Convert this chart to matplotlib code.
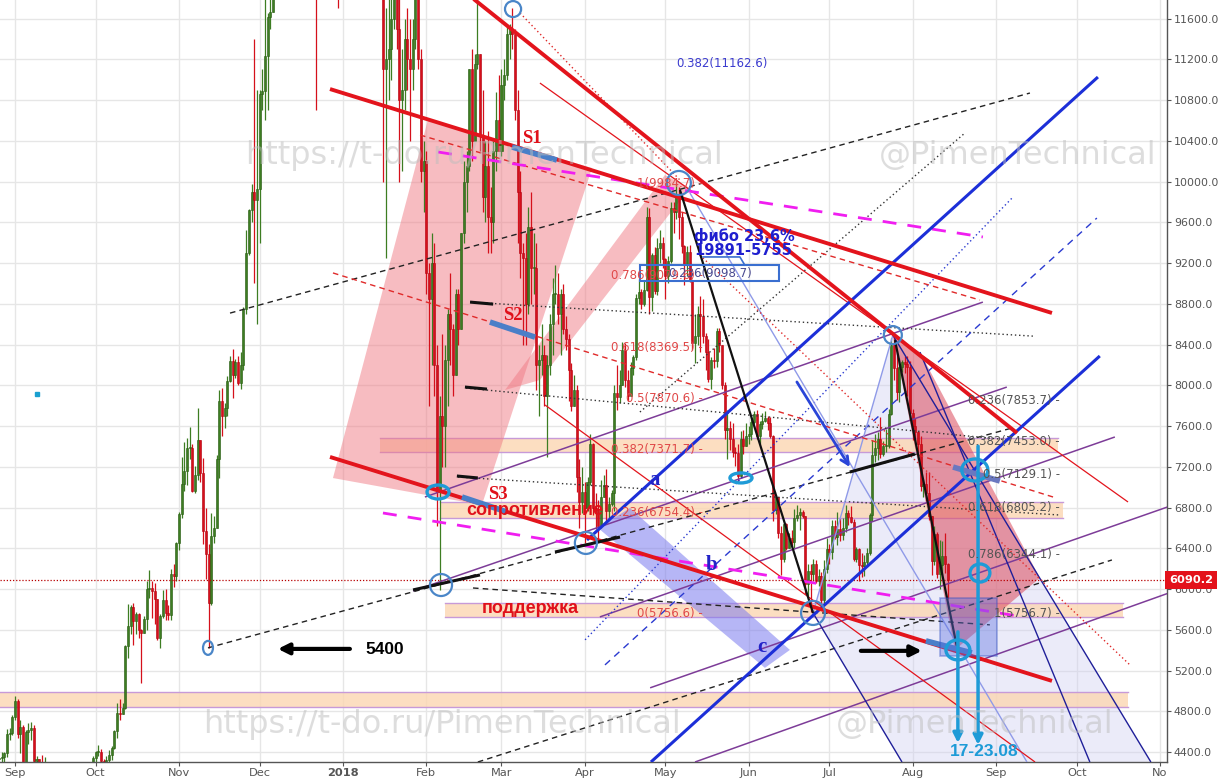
import datetime as dt

import matplotlib
matplotlib.use("Agg")
import matplotlib.dates as mdates
import matplotlib.pyplot as plt
import numpy as np
from matplotlib.patches import Ellipse, Polygon, Rectangle

# ---------------------------------------------------------------- candles
# BTCUSD daily; open = previous close
OPEN_FIRST = 4330
MONTH_STARTS = ["2017-08-26", "2017-09-01", "2017-10-01", "2017-11-01", "2017-12-01",
                "2018-01-01", "2018-02-01", "2018-03-01", "2018-04-01", "2018-05-01",
                "2018-06-01", "2018-07-01", "2018-08-01"]
CLOSE = [
    [4340, 4350, 4390, 4580, 4590, 4740],
    [4900, 4580, 4650, 4300, 4600, 4620, 4640, 4310, 4330, 4220, 4180, 4180, 3880, 3250, 3700,
     3690, 3680, 4080, 3910, 3880, 3630, 3610, 3790, 3670, 3930, 3890, 4210, 4190, 4170, 4340],
    [4400, 4400, 4310, 4220, 4320, 4370, 4440, 4610, 4780, 4770, 4830, 5440, 5640, 5820, 5690,
     5760, 5600, 5570, 5710, 6000, 6010, 5980, 5900, 5520, 5740, 5890, 5770, 5750, 6150, 6130, 6450],
    [6740, 7030, 7160, 7380, 7380, 6960, 7120, 7460, 7140, 6570, 6340, 5860, 6520, 6600, 7280,
     7850, 7700, 7780, 8040, 8240, 8100, 8230, 8020, 8200, 8750, 9300, 9720, 9900, 9820, 9930],
    [10860, 10890, 11230, 11620, 11660, 13700, 16850, 16050, 14840, 15060, 16730, 17280, 16400,
     16500, 17600, 19300, 19100, 18900, 17600, 16400, 15700, 13800, 14000, 13900, 13900, 15800,
     15400, 14400, 14400, 12600, 13900],
    [13450, 14750, 15000, 15000, 16900, 17100, 16200, 15000, 14400, 14900, 13300, 13800, 14200,
     13600, 13600, 11100, 11200, 11300, 11600, 12800, 11500, 10800, 10900, 11400, 11200, 11100,
     11400, 11800, 11200, 10100, 10200],
    [9100, 8850, 9200, 8200, 6950, 7700, 7600, 8250, 8700, 8550, 8100, 8900, 8550, 9500, 10000,
     10150, 11100, 10400, 11150, 11250, 10450, 9850, 10150, 9650, 9600, 10300, 10600, 10300],
    [10950, 11050, 11450, 11500, 11450, 10700, 9900, 9300, 9250, 8800, 9550, 9150, 9150, 8200,
     8250, 8300, 7900, 8200, 8600, 8900, 8900, 8700, 8900, 8550, 8450, 8150, 7800, 7950, 7100,
     6850, 6950],
    [6800, 7050, 7420, 6800, 6780, 6620, 6900, 7020, 6770, 6840, 6940, 7920, 7890, 8000, 8350,
     8050, 7900, 8170, 8280, 8860, 8920, 8800, 8940, 9650, 8870, 9280, 8930, 9350, 9400, 9240],
    [9070, 9220, 9740, 9700, 9850, 9650, 9370, 9180, 9310, 9020, 8420, 8480, 8700, 8680, 8480,
     8330, 8060, 8250, 8240, 8530, 8400, 8000, 7560, 7580, 7470, 7350, 7340, 7110, 7470, 7400, 7500],
    [7520, 7640, 7720, 7500, 7620, 7650, 7680, 7630, 7500, 6780, 6900, 6550, 6300, 6640, 6400,
     6500, 6460, 6700, 6730, 6760, 6720, 6050, 6180, 6150, 6250, 6080, 6130, 5890, 6200, 6390],
    [6360, 6620, 6510, 6590, 6530, 6600, 6750, 6710, 6660, 6300, 6390, 6240, 6230, 6270, 6350,
     6730, 7320, 7380, 7470, 7330, 7400, 7400, 7720, 8400, 8170, 7930, 8180, 8230, 8210, 8180, 7730],
    [7600, 7540, 7420, 7010, 7030, 6940, 6720, 6280, 6540, 6150, 6240, 6320, 6250, 6090],
]
HIGH = [
    [4380, 4400, 4400, 4630, 4640, 4760],
    [4950, 4920, 4720, 4670, 4620, 4690, 4700, 4670, 4360, 4330, 4370, 4350, 4190, 3900, 3800,
     3850, 3800, 4120, 4130, 4060, 3900, 3740, 3810, 3800, 3980, 3970, 4220, 4270, 4220, 4360],
    [4410, 4470, 4430, 4330, 4360, 4420, 4460, 4620, 4880, 4920, 4880, 5450, 5850, 5840, 5860,
     5780, 5770, 5610, 5740, 6080, 6190, 6080, 6060, 5900, 5760, 5990, 6000, 5840, 6200, 6250, 6460],
    [6760, 7300, 7440, 7480, 7590, 7420, 7210, 7780, 7420, 7290, 6800, 6440, 6750, 6720, 7320,
     7950, 7970, 7830, 8090, 8290, 8360, 8260, 8290, 8330, 8770, 9520, 9730, 9980, 11400, 10900],
    [10900, 11100, 11800, 11650, 11850, 13800, 17200, 17300, 16300, 15800, 17400, 17500, 17300,
     16900, 17900, 19500, 19700, 19200, 19000, 17900, 17300, 15900, 15400, 14500, 14600, 16400,
     16500, 15500, 15000, 14600, 14200],
    [13900, 15300, 15400, 15500, 17100, 17200, 17100, 16300, 15400, 14900, 14900, 14000, 14500,
     14400, 14300, 13600, 11700, 12000, 11800, 13000, 12800, 11900, 11300, 11600, 11700, 11600,
     11600, 12000, 11800, 11300, 10400],
    [10300, 9200, 9500, 9400, 8400, 7900, 8500, 8400, 8750, 9100, 8600, 8950, 8950, 9500, 10200,
     10300, 11100, 11300, 11250, 11800, 11250, 10900, 10400, 10500, 9950, 10400, 10880, 11050],
    [11100, 11200, 11550, 11550, 11700, 11500, 10900, 10100, 9400, 9500, 9750, 9900, 9500, 9400,
     8400, 8600, 8400, 8300, 8700, 9050, 9180, 9100, 8950, 8990, 8680, 8500, 8220, 8100, 8000,
     7280, 7200],
    [7050, 7100, 7520, 7430, 6940, 6870, 7070, 7120, 7180, 6900, 6970, 8000, 8200, 8150, 8430,
     8420, 8150, 8230, 8300, 8900, 9040, 8950, 9020, 9750, 9740, 9300, 9360, 9450, 9520, 9460],
    [9250, 9270, 9800, 9800, 9990, 9950, 9700, 9380, 9370, 9380, 9030, 8700, 8780, 8880, 8850,
     8510, 8450, 8280, 8370, 8560, 8560, 8400, 8030, 7760, 7650, 7630, 7390, 7420, 7550, 7560, 7630],
    [7600, 7690, 7750, 7760, 7650, 7730, 7750, 7700, 7690, 7510, 6920, 6890, 6620, 6660, 6650,
     6550, 6580, 6790, 6830, 6800, 6780, 6720, 6250, 6250, 6300, 6290, 6200, 6170, 6290, 6500],
    [6440, 6680, 6680, 6760, 6700, 6700, 6830, 6780, 6820, 6690, 6410, 6400, 6350, 6330, 6400,
     6750, 7460, 7520, 7540, 7690, 7450, 7570, 7770, 8460, 8490, 8320, 8270, 8250, 8290, 8290, 8240],
    [7770, 7680, 7550, 7500, 7080, 7150, 7150, 6720, 6620, 6560, 6480, 6470, 6550, 6260],
]
LOW = [
    [4290, 4300, 4300, 4350, 4520, 4570],
    [4720, 4540, 4390, 4120, 4230, 4480, 4520, 4200, 4130, 4080, 4120, 4100, 3800, 3240, 2990,
     3580, 3580, 3680, 3850, 3820, 3610, 3580, 3600, 3650, 3670, 3840, 3860, 4140, 4070, 4160],
    [4290, 4360, 4210, 4150, 4170, 4300, 4320, 4430, 4540, 4720, 4770, 4820, 5320, 5560, 5450,
     5560, 5520, 5080, 5570, 5600, 5910, 5720, 5660, 5500, 5420, 5720, 5700, 5700, 5700, 6020, 6080],
    [6380, 6700, 6960, 7020, 7280, 6950, 6940, 7070, 7050, 6440, 6100, 5420, 5840, 6450, 6600,
     7090, 7500, 7580, 7700, 8030, 7880, 8070, 8000, 7960, 8150, 8700, 9280, 9600, 9000, 8600],
    [9400, 10700, 10600, 10700, 11500, 11700, 13600, 13900, 13600, 13100, 14800, 16400, 15800,
     15600, 16300, 17300, 18700, 17800, 16600, 14900, 14800, 10700, 12800, 12200, 13100, 13700,
     14800, 13600, 14000, 11700, 12400],
    [12700, 12900, 14600, 14000, 14900, 16200, 15900, 14100, 14300, 13400, 12500, 13200, 13700,
     13300, 13300, 10000, 9250, 10800, 11000, 11500, 11300, 10000, 10100, 10700, 10900, 10400,
     10900, 11300, 11100, 10000, 9700],
    [8900, 7800, 8200, 7900, 6620, 5990, 7200, 7200, 7800, 8200, 7900, 8100, 8400, 8550, 9400,
     9700, 10100, 10200, 10400, 11100, 10300, 9700, 9600, 9300, 9300, 9400, 10100, 10300],
    [10250, 10800, 11000, 11200, 11300, 10600, 9400, 9050, 8400, 8400, 8700, 8800, 8900, 7950,
     7700, 8100, 7800, 7300, 8100, 8300, 8800, 8600, 8300, 8500, 8350, 7850, 7750, 7800, 6950,
     6600, 6750],
    [6450, 6770, 7020, 6730, 6590, 6460, 6600, 6920, 6640, 6680, 6820, 6770, 7760, 7830, 8000,
     7980, 7850, 7900, 8100, 8250, 8800, 8750, 8780, 8930, 8700, 8730, 8900, 8890, 9200, 9150],
    [8850, 9000, 9200, 9500, 9630, 9440, 9300, 8980, 9070, 9010, 8350, 8220, 8400, 8330, 8420,
     8150, 8030, 7960, 8170, 8180, 8330, 7960, 7470, 7280, 7370, 7300, 7210, 7050, 7090, 7330, 7420],
    [7420, 7460, 7620, 7470, 7420, 7570, 7640, 7560, 7480, 6670, 6740, 6500, 6140, 6270, 6380,
     6400, 6420, 6400, 6670, 6580, 6700, 5950, 5930, 5780, 6080, 6060, 6030, 5850, 5850, 6160],
    [6250, 6300, 6490, 6430, 6470, 6480, 6560, 6630, 6650, 6280, 6270, 6080, 6120, 6130, 6240,
     6330, 6670, 7250, 7270, 7290, 7310, 7350, 7380, 7710, 8050, 7860, 7840, 8130, 8120, 7900, 7660],
    [7460, 7450, 7300, 6960, 6900, 6860, 6680, 6140, 6240, 6110, 6000, 6140, 6160, 5900],
]
LAST_PRICE = 6090.2

MONTH_TICKS = ["2017-09-01", "2017-10-01", "2017-11-01", "2017-12-01", "2018-01-01",
               "2018-02-01", "2018-03-01", "2018-04-01", "2018-05-01", "2018-06-01",
               "2018-07-01", "2018-08-01", "2018-09-01", "2018-10-01", "2018-11-01"]
MONTH_LABELS = ["Sep", "Oct", "Nov", "Dec", "2018", "Feb", "Mar", "Apr", "May", "Jun",
                "Jul", "Aug", "Sep", "Oct", "No"]
PRICE_TICKS = list(range(4400, 11601, 400))

# ---------------------------------------------------------------- drawings
# anchors as (days after 2017-09-01, price)
THICK_RED = [((117.2, 10908), (385.8, 8710)), ((117.2, 7297), (385.8, 5099)),
             ((160.0, 12016), (372.8, 7532))]
THIN_RED = [((195.3, 10967), (414.1, 6855)), ((197.2, 7807), (379.5, 4303))]
RED_DASHED = [((118.3, 9103), (386.2, 6904)), ((150.7, 10457), (359.0, 8837))]
RED_DOTTED = [((187.9, 11654), (247.4, 10015)), ((254.8, 9279), (414.8, 5256))]
MAGENTA = [((157.4, 10290), (360.1, 9456)), ((136.9, 6747), (372.8, 5737))]
BLUE_THICK = [((212.8, 6482), (402.9, 11026)), ((236.6, 4303), (403.6, 8288))]
BLUE_DASHED = [((219.5, 5256), (402.5, 9642))]
BLUE_DOTTED = [((212.1, 5502), (371.3, 9848))]
LIGHT_BLUE = [((251.1, 9888), (376.5, 4303)), ((296.9, 5766), (326.6, 8493))]
NAVY = [((326.6, 8493), (422.6, 4303)), ((296.9, 5766), (330.0, 4303)),
        ((336.7, 8326), (399.9, 4303))]
BLACK_SOLID = [((247.4, 9917), (296.9, 5766)), ((327.4, 8444), (350.8, 5384))]
BLACK_SEGS = [((169.3, 8817), (177.9, 8797)), ((167.4, 7983), (175.6, 7963)),
              ((164.4, 7110), (172.2, 7091)), ((200.9, 6364), (225.1, 6511)),
              ((148.1, 5992), (173.0, 6139)), ((310.6, 7149), (334.8, 7326))]
BLACK_DOTTED = [((169.3, 8817), (378.7, 8483)), ((167.8, 7973), (370.2, 7463)),
                ((164.8, 7100), (388.8, 6727)), ((232.5, 7738), (353.4, 10476))]
BLACK_DASHED = [((80.0, 8709), (377.6, 10869)), ((71.8, 5423), (370.9, 7581)),
                ((170.4, 6011), (362.7, 5649)), ((172.2, 4303), (408.1, 6286))]
PURPLE = [((152.5, 6904), (360.1, 8817)), ((217.6, 5727), (409.2, 7493)),
          ((236.3, 5031), (428.9, 6807)), ((253.0, 4303), (429.3, 5962)),
          ((148.1, 5982), (369.0, 7983))]
STEEL_SEGS = [((184.9, 10339), (201.6, 10211)), ((176.7, 8621), (193.5, 8473)),
              ((166.3, 6904), (183.0, 6757)), ((338.9, 5492), (356.0, 5374))]
SLATE_SEG = ((349.0, 7198), (366.4, 7061))

PINK_BANDS = [[(118.3, 7090), (173.7, 6825), (214.7, 10133), (153.6, 10604)],
              [(182.3, 7954), (195.3, 8052), (251.1, 9937), (241.8, 10064)]]
BLUE_BAND = [(216.9, 6600), (228.8, 6796), (288.3, 5403), (279.0, 5227)]
RED_ZONE = [(326.6, 8493), (336.7, 8326), (381.3, 6109), (349.7, 5403)]
LAVENDER_ZONE = [(296.9, 5766), (326.6, 8493), (422.6, 4303), (330.0, 4303)]
# (day from, day to, price low, price high)
ZONES = [(135.8, 388.0, 7346, 7483), (158.1, 389.9, 6698, 6855),
         (160.0, 412.2, 5727, 5864), (-5.6, 414.1, 4843, 4990)]
BLUE_BOX = (344.1, 365.3, 5344, 5913)
FIB_BOX = (232.5, 284.2, 9024, 9181)

# (day, price, width days, height price)
CIRCLES_STEEL = [(185.3, 11693, 6.0, 157), (247.0, 9986, 8.9, 236), (326.6, 8493, 6.7, 177),
                 (158.5, 6040, 8.2, 216), (212.4, 6453, 8.2, 216), (296.9, 5766, 8.9, 236),
                 (71.8, 5423, 3.7, 137)]
CIRCLES_CYAN = [(157.4, 6953, 8.2, 137), (270.1, 7091, 8.2, 98), (357.1, 7169, 9.7, 216),
                (359.0, 6158, 7.4, 177), (350.8, 5403, 8.9, 196)]
CYAN_ARROWS = [((358.3, 7403), (358.3, 4471)), ((350.8, 5580), (350.8, 4490))]
BLACK_ARROWS = [((124.6, 5413), (97.8, 5413)), ((314.7, 5394), (337.4, 5394))]
BLUE_ARROW = ((290.9, 8033), (310.6, 7198))

FIB_RED = [(5756.6, "0(5756.6)"), (6754.4, "0.236(6754.4)"), (7371.7, "0.382(7371.7)"),
           (7870.6, "0.5(7870.6)"), (8369.5, "0.618(8369.5)"), (9079.6, "0.786(9079.6)"),
           (9984.7, "1(9984.7)")]
FIB_GRAY = [(7853.7, "0.236(7853.7)"), (7453.0, "0.382(7453.0)"), (7129.1, "0.5(7129.1)"),
            (6805.2, "0.618(6805.2)"), (6344.1, "0.786(6344.1)"), (5756.7, "1(5756.7)")]
FIB_RED_DAY = 256.0
FIB_GRAY_DAY = 388.8

T0 = mdates.date2num(dt.date(2017, 9, 1))


def tx(t):
    return T0 + t


def seglines(ax, segs, **kw):
    for (t1, p1), (t2, p2) in segs:
        ax.plot([tx(t1), tx(t2)], [p1, p2], solid_capstyle="butt", **kw)


def poly(ax, pts, **kw):
    ax.add_patch(Polygon([(tx(t), p) for t, p in pts], closed=True, **kw))


def main():
    dates, c, h, l = [], [], [], []
    for start, cb, hb, lb in zip(MONTH_STARTS, CLOSE, HIGH, LOW):
        d0 = dt.date.fromisoformat(start)
        dates += [d0 + dt.timedelta(days=i) for i in range(len(cb))]
        c += cb
        h += hb
        l += lb
    x = mdates.date2num(dates)
    c = np.array(c, float)
    o = np.r_[OPEN_FIRST, c[:-1]]
    h = np.maximum.reduce([np.array(h, float), o, c])
    l = np.minimum.reduce([np.array(l, float), o, c])

    fig = plt.figure(figsize=(12.2, 7.82), dpi=100)
    fig.patch.set_facecolor("white")
    ax = fig.add_axes([0, 20 / 782, 1167 / 1220, 762 / 782])
    ax.set_facecolor("white")

    # zones and shaded shapes
    for t1, t2, p1, p2 in ZONES:
        ax.add_patch(Rectangle((tx(t1), p1), t2 - t1, p2 - p1, fc="#fcd6b2", ec="none",
                               alpha=0.8, zorder=1.2))
        ax.plot([tx(t1), tx(t2)], [p1, p1], color="#c79ad8", lw=1, zorder=1.3)
        ax.plot([tx(t1), tx(t2)], [p2, p2], color="#c79ad8", lw=1, zorder=1.3)
    poly(ax, LAVENDER_ZONE, fc="#cfcff2", ec="none", alpha=0.4, zorder=1.1)
    for band in PINK_BANDS:
        poly(ax, band, fc="#f07a84", ec="none", alpha=0.5, zorder=1.5)
    poly(ax, BLUE_BAND, fc="#7b7bef", ec="none", alpha=0.55, zorder=1.5)
    poly(ax, RED_ZONE, fc="#dc4a5c", ec="none", alpha=0.55, zorder=1.5)

    # candles
    up = c >= o
    body_c = np.where(up, "#3d7d22", "#d5101b")
    edge_c = np.where(up, "#285a12", "#b3000f")
    ax.vlines(x, l, h, colors=body_c, lw=0.9, zorder=2)
    ax.bar(x, np.maximum(np.abs(c - o), 10), bottom=np.minimum(o, c), width=0.75,
           color=body_c, edgecolor=edge_c, lw=0.4, zorder=2.1)

    # last price line
    ax.axhline(LAST_PRICE, color="#b80000", lw=0.9, ls=(0, (1, 1.5)), zorder=2.5)

    # drawings
    seglines(ax, PURPLE, color="#7d3c98", lw=1.1, zorder=3)
    seglines(ax, BLACK_DASHED, color="#222222", lw=1, ls=(0, (4, 3)), zorder=3)
    seglines(ax, BLACK_DOTTED, color="#333333", lw=1, ls=(0, (1, 2)), zorder=3)
    seglines(ax, BLUE_DASHED, color="#2a3ad0", lw=1, ls=(0, (5, 4)), zorder=3)
    seglines(ax, BLUE_DOTTED, color="#2a3ad0", lw=1, ls=(0, (1, 2)), zorder=3)
    seglines(ax, LIGHT_BLUE, color="#8f9ae8", lw=1, zorder=3)
    seglines(ax, NAVY, color="#1f1f99", lw=1, zorder=3)
    seglines(ax, RED_DOTTED, color="#e02a2a", lw=1, ls=(0, (1, 2)), zorder=3)
    seglines(ax, RED_DASHED, color="#e02a2a", lw=1, ls=(0, (4, 3)), zorder=3)
    seglines(ax, THIN_RED, color="#e3141c", lw=0.9, zorder=3)
    seglines(ax, MAGENTA, color="#f01ef0", lw=2, ls=(0, (5, 4)), zorder=3.2)
    seglines(ax, BLUE_THICK, color="#1c2fd8", lw=2.2, zorder=3.3)
    seglines(ax, THICK_RED, color="#e3141c", lw=2.8, zorder=3.4)
    seglines(ax, BLACK_SOLID, color="#111111", lw=1.6, zorder=3.4)
    seglines(ax, BLACK_SEGS, color="#111111", lw=2.2, zorder=3.5)
    seglines(ax, STEEL_SEGS, color="#4a7fc8", lw=4, zorder=3.6)
    seglines(ax, [SLATE_SEG], color="#6a78c0", lw=4, zorder=3.6)

    t1, t2, p1, p2 = BLUE_BOX
    ax.add_patch(Rectangle((tx(t1), p1), t2 - t1, p2 - p1, fc="#5a70e0", ec="#2a4ac0",
                           lw=1.2, alpha=0.4, zorder=3.7))
    t1, t2, p1, p2 = FIB_BOX
    ax.add_patch(Rectangle((tx(t1), p1), t2 - t1, p2 - p1, fill=False, ec="#3a6fd0",
                           lw=1.5, zorder=4))
    ax.plot([tx(256.0), tx(269.7), tx(271.5)], [9260, 9260, 9181], color="#3a6fd0",
            lw=1.2, zorder=4)

    for t, p, w, hh in CIRCLES_STEEL:
        ax.add_patch(Ellipse((tx(t), p), w, hh, fill=False, ec="#4a86c8", lw=1.6, zorder=4))
    for t, p, w, hh in CIRCLES_CYAN:
        ax.add_patch(Ellipse((tx(t), p), w, hh, fill=False, ec="#1e9bd7", lw=2.4, zorder=4))

    for (ta, pa), (tb, pb) in CYAN_ARROWS:
        ax.annotate("", xy=(tx(tb), pb), xytext=(tx(ta), pa), zorder=4,
                    arrowprops=dict(arrowstyle="-|>", color="#1e9bd7", lw=2.5,
                                    mutation_scale=14, shrinkA=0, shrinkB=0))
    for (ta, pa), (tb, pb) in BLACK_ARROWS:
        ax.annotate("", xy=(tx(tb), pb), xytext=(tx(ta), pa), zorder=4,
                    arrowprops=dict(arrowstyle="-|>", color="black", lw=3,
                                    mutation_scale=16, shrinkA=0, shrinkB=0))
    (ta, pa), (tb, pb) = BLUE_ARROW
    ax.annotate("", xy=(tx(tb), pb), xytext=(tx(ta), pa), zorder=4,
                arrowprops=dict(arrowstyle="->", color="#2a45d8", lw=2,
                                mutation_scale=14, shrinkA=0, shrinkB=0))

    ax.plot(tx(8.2), 7915, marker="s", ms=2.5, color="#1aa0d0", zorder=4)

    # fib labels
    for p, s in FIB_RED:
        ax.text(tx(FIB_RED_DAY), p, s + " -", color="#e04848", fontsize=8.5,
                ha="right", va="center", zorder=5)
    for p, s in FIB_GRAY:
        ax.text(tx(FIB_GRAY_DAY), p, s + " -", color="#555555", fontsize=8.5,
                ha="right", va="center", zorder=5)
    ax.text(tx(245.9), 11162.6, "0.382(11162.6)", color="#3b3bcf", fontsize=8.5,
            ha="left", va="center", zorder=5)
    ax.text(tx(242.9), 9098.7, "0.236(9098.7)", color="#4a4a90", fontsize=8.5,
            ha="left", va="center", zorder=5)

    # labels
    red = "#e0101a"
    serif = dict(family="Liberation Serif", fontweight="bold")
    ax.text(tx(188.6), 10427, "S1", color=red, fontsize=13.5, ha="left", va="center", zorder=5, **serif)
    ax.text(tx(181.5), 8688, "S2", color=red, fontsize=13.5, ha="left", va="center", zorder=5, **serif)
    ax.text(tx(176.0), 6924, "S3", color=red, fontsize=13.5, ha="left", va="center", zorder=5, **serif)
    for t, p, s in [(235.9, 7071, "a"), (257.1, 6237, "b"), (276.0, 5433, "c")]:
        ax.text(tx(t), p, s, color="#2323c8", fontsize=15, ha="left", va="center",
                zorder=5, **serif)
    sans = dict(family="Liberation Sans", fontweight="bold")
    ax.text(tx(167.8), 6776, "сопротивление", color=red, fontsize=13, ha="left",
            va="center", zorder=4.8, **sans)
    ax.text(tx(191.9), 5805, "поддержка", color=red, fontsize=13, ha="center",
            va="center", zorder=5, **sans)
    ax.text(tx(130.2), 5403, "5400", color="black", fontsize=12.5, ha="left",
            va="center", zorder=5, **sans)
    ax.text(tx(347.8), 4402, "17-23.08", color="#1e9bd7", fontsize=12.5, ha="left",
            va="center", zorder=5, **sans)
    ax.text(tx(252.6), 9465, "фибо 23,6%", color="#1f1fcf", fontsize=10.5,
            fontweight="bold", ha="left", va="center", zorder=5)
    ax.text(tx(252.6), 9328, "19891-5755", color="#1f1fcf", fontsize=10.5,
            fontweight="bold", ha="left", va="center", zorder=5)

    # watermarks
    for t, p, s in [(174.5, 10260, "https://t-do.ru/PimenTechnical"),
                    (373.0, 10260, "@PimenTechnical"),
                    (158.7, 4667, "https://t-do.ru/PimenTechnical"),
                    (357.1, 4667, "@PimenTechnical")]:
        ax.text(tx(t), p, s, color="#bdbdbd", alpha=0.5, fontsize=23, ha="center",
                va="center", zorder=6)

    # axes
    ax.set_xlim(tx(-5.58), tx(428.6))
    ax.set_ylim(4303, 11782)
    ax.set_xticks([mdates.date2num(dt.date.fromisoformat(d)) for d in MONTH_TICKS])
    ax.set_xticklabels(MONTH_LABELS)
    for lab in ax.get_xticklabels():
        if lab.get_text() == "2018":
            lab.set_fontweight("bold")
            lab.set_color("#444444")
    ax.set_yticks(PRICE_TICKS)
    ax.set_yticklabels([f"{v:.1f}" for v in PRICE_TICKS])
    ax.yaxis.tick_right()
    ax.tick_params(axis="y", labelsize=7.9, colors="#555555", length=3, pad=2)
    ax.tick_params(axis="x", labelsize=8.2, colors="#555555", length=3, pad=1)
    ax.grid(True, color="#e6e6e6", lw=1, zorder=0)
    ax.set_axisbelow(True)
    for side in ("top", "left"):
        ax.spines[side].set_visible(False)
    for side in ("right", "bottom"):
        ax.spines[side].set_color("#555555")
        ax.spines[side].set_linewidth(1)

    ax.text(1.0015, LAST_PRICE, f"{LAST_PRICE:.1f}", transform=ax.get_yaxis_transform(),
            ha="left", va="center", color="white", fontsize=8.2, fontweight="bold",
            bbox=dict(boxstyle="square,pad=0.35", fc="#e3121b", ec="none"), zorder=7,
            clip_on=False)

    fig.savefig("out.png", dpi=100)


if __name__ == "__main__":
    main()
